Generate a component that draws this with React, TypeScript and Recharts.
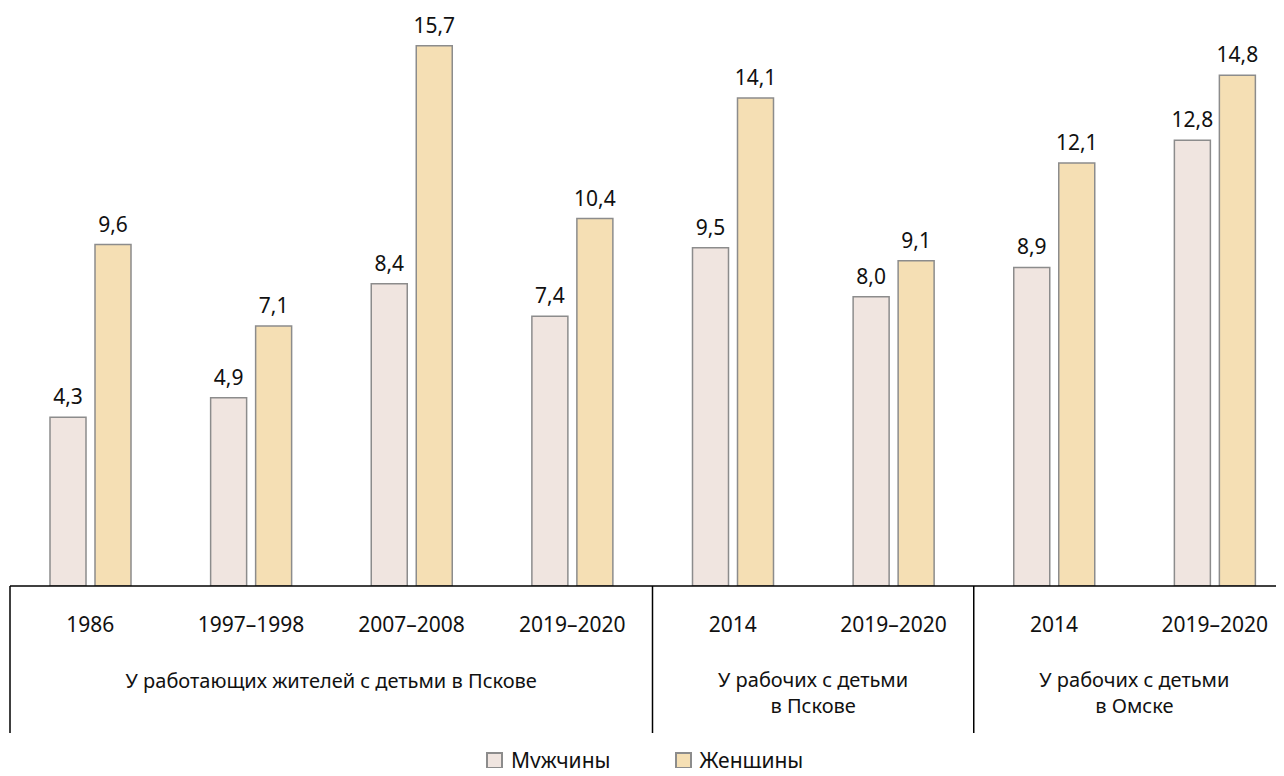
import { BarChart, Bar, XAxis, YAxis, LabelList } from "recharts";

// периоды обследований (подписи оси X)
const periods = ["1986", "1997–1998", "2007–2008", "2019–2020", "2014", "2019–2020", "2014", "2019–2020"];
const men = [4.3, 4.9, 8.4, 7.4, 9.5, 8.0, 8.9, 12.8];
const women = [9.6, 7.1, 15.7, 10.4, 14.1, 9.1, 12.1, 14.8];

const groupNames = [
  ["У работающих жителей с детьми в Пскове"],
  ["У рабочих с детьми", "в Пскове"],
  ["У рабочих с детьми", "в Омске"],
];
const groupSizes = [4, 2, 2];
const seriesNames = ["Мужчины", "Женщины"];

const MEN_FILL = "#F0E5E0";
const WOMEN_FILL = "#F5DFB4";
const BAR_STROKE = "#8C8C8C";
const INK = "#111";

const W = 1300;
const H = 768;
const AXIS_H = 180;
const MARGIN = { top: 2, right: 13, bottom: 10, left: 2 };
const BAND = (W - MARGIN.left - MARGIN.right) / periods.length;
// ось в оригинале начинается чуть ниже нуля
const Y_MIN = -0.88;
const Y_MAX = 16.8;

const rows = periods.map((p, i) => ({ period: p, men: men[i], women: women[i] }));

// индексы первых столбцов каждой группы
const groupStarts = groupSizes.map((_, g) => groupSizes.slice(0, g).reduce((a, b) => a + b, 0));

const fmt = (v: unknown) => Number(v).toFixed(1).replace(".", ",");

function PeriodTick(props: any) {
  const { x, y, payload, index } = props;
  const g = groupStarts.indexOf(index);
  return (
    <g>
      <text x={x} y={y + 46} textAnchor="middle" fontSize={21} fill={INK}>
        {payload.value}
      </text>
      {g >= 0 && (
        <>
          <line
            x1={x - BAND / 2}
            x2={x - BAND / 2}
            y1={y}
            y2={y + 147}
            stroke="#000"
            strokeWidth={1.5}
          />
          {groupNames[g].map((line, li) => (
            <text
              key={li}
              x={x - BAND / 2 + (groupSizes[g] * BAND) / 2}
              y={y + (groupNames[g].length === 1 ? 102 : 101 + li * 26)}
              textAnchor="middle"
              fontSize={20}
              fill={INK}
            >
              {line}
            </text>
          ))}
        </>
      )}
    </g>
  );
}

function LegendBox() {
  const fills = [MEN_FILL, WOMEN_FILL];
  return (
    <div
      style={{
        position: "absolute",
        top: 738,
        left: 478,
        height: 28,
        display: "flex",
        alignItems: "center",
        fontSize: 21,
        lineHeight: "28px",
        color: INK,
      }}
    >
      {seriesNames.map((name, i) => (
        <div key={name} style={{ display: "flex", alignItems: "center", marginRight: i === 0 ? 64 : 0 }}>
          <span
            style={{
              width: 13,
              height: 13,
              background: fills[i],
              border: `2px solid ${BAR_STROKE}`,
              marginRight: 8,
              display: "inline-block",
            }}
          />
          <span>{name}</span>
        </div>
      ))}
    </div>
  );
}

export default function App() {
  return (
    <div
      style={{
        position: "relative",
        width: 1276,
        height: H,
        overflow: "hidden",
        marginBottom: -8,
        fontFamily: "'Noto Sans', sans-serif",
        background: "#fff",
      }}
    >
      <BarChart width={W} height={H} data={rows} margin={MARGIN} barSize={36} barGap={9}>
        <XAxis
          dataKey="period"
          interval={0}
          tickLine={false}
          tickSize={0}
          tickMargin={0}
          height={AXIS_H}
          axisLine={{ stroke: "#000", strokeWidth: 1.5 }}
          tick={<PeriodTick />}
        />
        <YAxis hide type="number" domain={[Y_MIN, Y_MAX]} allowDataOverflow />
        <Bar
          name={seriesNames[0]}
          dataKey={(d: any) => [Y_MIN, d.men]}
          fill={MEN_FILL}
          stroke={BAR_STROKE}
          strokeWidth={1.5}
          isAnimationActive={false}
        >
          <LabelList dataKey="men" position="top" offset={13} formatter={fmt} fill={INK} fontSize={21} />
        </Bar>
        <Bar
          name={seriesNames[1]}
          dataKey={(d: any) => [Y_MIN, d.women]}
          fill={WOMEN_FILL}
          stroke={BAR_STROKE}
          strokeWidth={1.5}
          isAnimationActive={false}
        >
          <LabelList dataKey="women" position="top" offset={13} formatter={fmt} fill={INK} fontSize={21} />
        </Bar>
      </BarChart>
      <LegendBox />
    </div>
  );
}
